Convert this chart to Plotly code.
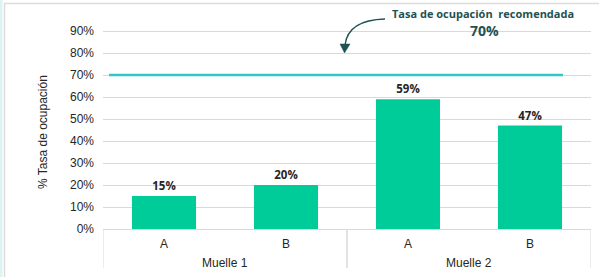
import plotly.graph_objects as go

# Data
muelles = ["Muelle 1", "Muelle 1", "Muelle 2", "Muelle 2"]
frentes = ["A", "B", "A", "B"]
ocupacion = [0.15, 0.20, 0.59, 0.47]
tasa_recomendada = 0.70
y_ticks = [0, 0.1, 0.2, 0.3, 0.4, 0.5, 0.6, 0.7, 0.8, 0.9]
y_tick_labels = ["0%", "10%", "20%", "30%", "40%", "50%", "60%", "70%", "80%", "90%"]

W, H = 599, 277
L, R, T, B = 103, 8, 9, 48
pw, ph = W - L - R, H - T - B


def px(x):
    return (x - L) / pw


def py(y):
    return (H - B - y) / ph


bar_color = "#00CC99"
teal_dark = "#1E5252"
grid_c = "#D9D9D9"
txt_c = "#262626"

pos = list(range(len(frentes)))

fig = go.Figure()
fig.add_trace(go.Bar(
    x=pos,
    y=ocupacion,
    marker=dict(color=bar_color, line=dict(width=0)),
    width=0.525,
    text=[f"{v:.0%}" for v in ocupacion],
    textposition="outside",
    textfont=dict(family="Open Sans", size=11.5, color=txt_c, weight="bold"),
    cliponaxis=False,
    hoverinfo="skip",
))

# group structure from data
groups = []
for i, m in enumerate(muelles):
    if not groups or groups[-1][0] != m:
        groups.append([m, i, i])
    else:
        groups[-1][2] = i

shapes = [
    # recommended occupancy line
    dict(type="line", xref="paper", yref="y", x0=px(109), x1=px(563),
         y0=tasa_recomendada, y1=tasa_recomendada,
         line=dict(color="#33C6C6", width=2.5), layer="above"),
    # curved arrow
    dict(type="path", xref="paper", yref="paper",
         path=f"M {px(385)} {py(19)} Q {px(348)} {py(20)} {px(345)} {py(45)}",
         line=dict(color=teal_dark, width=1.3)),
    dict(type="path", xref="paper", yref="paper",
         path=f"M {px(340)} {py(44)} L {px(350)} {py(44)} L {px(344.5)} {py(53)} Z",
         fillcolor=teal_dark, line=dict(color=teal_dark, width=0.5)),
    # frame
    dict(type="line", xref="paper", yref="paper", x0=px(4), x1=px(599), y0=py(3.5), y1=py(3.5),
         line=dict(color="#DCDCDC", width=1.5)),
    dict(type="line", xref="paper", yref="paper", x0=px(4.5), x1=px(4.5), y0=py(3), y1=py(277),
         line=dict(color="#DCDCDC", width=1.5)),
    dict(type="rect", xref="paper", yref="paper", x0=px(0), x1=px(2.5), y0=py(0), y1=py(277),
         fillcolor="#DDF3F3", line=dict(width=0)),
]

annotations = [
    dict(xref="paper", yref="paper", x=px(483), y=py(13), text="Tasa de ocupación  recomendada",
         showarrow=False, font=dict(family="Open Sans", size=11, color=teal_dark, weight="bold"),
         xanchor="center", yanchor="middle"),
    dict(xref="paper", yref="paper", x=px(484), y=py(30), text=f"{tasa_recomendada:.0%}",
         showarrow=False, font=dict(family="Open Sans", size=14, color=teal_dark, weight="bold"),
         xanchor="center", yanchor="middle"),
    dict(xref="paper", yref="paper", x=px(43), y=py(132), text="% Tasa de ocupación",
         textangle=-90, showarrow=False,
         font=dict(family="Liberation Sans", size=12, color=txt_c),
         xanchor="center", yanchor="middle"),
]

# group labels and dividers
div_y1 = py(268)
for name, i0, i1 in groups:
    annotations.append(dict(xref="x", yref="paper", x=(i0 + i1) / 2, y=py(263), text=name,
                            showarrow=False, xanchor="center", yanchor="middle",
                            font=dict(family="Liberation Sans", size=12, color=txt_c)))
    for xb in (i0 - 0.5, i1 + 0.5):
        shapes.append(dict(type="line", xref="x", yref="paper", x0=xb, x1=xb, y0=0, y1=div_y1,
                           line=dict(color=grid_c, width=1)))

fig.update_layout(
    width=W, height=H,
    margin=dict(l=L, r=R, t=T, b=B, autoexpand=False),
    paper_bgcolor="white", plot_bgcolor="white",
    showlegend=False,
    bargap=0.3,
    shapes=shapes,
    annotations=annotations,
    font=dict(family="Liberation Sans", size=12, color=txt_c),
)
fig.update_yaxes(
    range=[0, 1.0], tickvals=y_ticks, ticktext=y_tick_labels,
    showgrid=True, gridcolor=grid_c, gridwidth=1,
    zeroline=False, showline=False, ticks="", ticklabelstandoff=8,
    automargin=False,
    tickfont=dict(family="Liberation Sans", size=12, color=txt_c),
)
fig.update_xaxes(
    tickvals=pos, ticktext=frentes,
    showline=True, linecolor=grid_c, linewidth=1, showgrid=False, zeroline=False,
    ticks="", automargin=False, ticklabelstandoff=4,
    tickfont=dict(family="Liberation Sans", size=12, color=txt_c),
    range=[-0.5, len(pos) - 0.5],
)

fig.write_html("out.html", post_script="document.body.style.margin='0';",
               config={"displayModeBar": False})
